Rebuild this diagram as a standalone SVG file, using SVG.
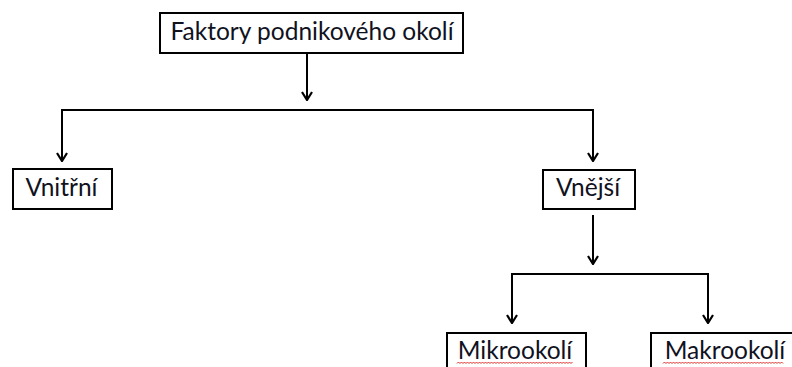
<svg xmlns="http://www.w3.org/2000/svg" width="792" height="367" viewBox="0 0 792 367">
<defs>
<style>
.box{fill:#fff;stroke:#000;stroke-width:2}
.lbl{font-family:Lato,"Liberation Sans",sans-serif;font-size:24.5px;fill:#10121e}
.conn{fill:none;stroke:#000;stroke-width:2}
.squig{fill:none;stroke:#e0302a;stroke-width:1}
</style>
<marker id="arr" viewBox="0 0 12 12" refX="11" refY="6" markerWidth="12" markerHeight="12" markerUnits="userSpaceOnUse" orient="auto">
<path d="M3,1 L11,6 L3,11" fill="none" stroke="#000" stroke-width="2.2"/>
</marker>
</defs>
<rect width="792" height="367" fill="#fff"/>
<g id="connectors">
<path class="conn" d="M307,53 V100" marker-end="url(#arr)"/>
<path class="conn" d="M62,161 V110 H593 V161" />
<path class="conn" d="M62,110 V161" marker-end="url(#arr)"/>
<path class="conn" d="M593,110 V161" marker-end="url(#arr)"/>
<path class="conn" d="M593,215 V264" marker-end="url(#arr)"/>
<path class="conn" d="M512,323 V274 H708 V323"/>
<path class="conn" d="M512,274 V323" marker-end="url(#arr)"/>
<path class="conn" d="M708,274 V323" marker-end="url(#arr)"/>
</g>
<g id="n-faktory">
<rect class="box" x="160" y="13" width="303" height="40"/>
<text class="lbl" x="312" y="40" text-anchor="middle">Faktory podnikového okolí</text>
</g>
<g id="n-vnitrni">
<rect class="box" x="13" y="169" width="99" height="40"/>
<text class="lbl" x="61.5" y="196" text-anchor="middle">Vnitřní</text>
</g>
<g id="n-vnejsi">
<rect class="box" x="543" y="170" width="92" height="39"/>
<text class="lbl" x="588" y="196" text-anchor="middle">Vnější</text>
</g>
<g id="n-mikro">
<rect class="box" x="447" y="333" width="139" height="40"/>
<text class="lbl" x="515" y="359" text-anchor="middle">Mikrookolí</text>
<path class="squig" d="M457,363.5 l1.5,-1.5 l1.5,1.5 l1.5,-1.5 l1.5,1.5 l1.5,-1.5 l1.5,1.5 l1.5,-1.5 l1.5,1.5 l1.5,-1.5 l1.5,1.5 l1.5,-1.5 l1.5,1.5 l1.5,-1.5 l1.5,1.5 l1.5,-1.5 l1.5,1.5 l1.5,-1.5 l1.5,1.5 l1.5,-1.5 l1.5,1.5 l1.5,-1.5 l1.5,1.5 l1.5,-1.5 l1.5,1.5 l1.5,-1.5 l1.5,1.5 l1.5,-1.5 l1.5,1.5 l1.5,-1.5 l1.5,1.5 l1.5,-1.5 l1.5,1.5 l1.5,-1.5 l1.5,1.5 l1.5,-1.5 l1.5,1.5 l1.5,-1.5 l1.5,1.5 l1.5,-1.5 l1.5,1.5 l1.5,-1.5 l1.5,1.5 l1.5,-1.5 l1.5,1.5 l1.5,-1.5 l1.5,1.5 l1.5,-1.5 l1.5,1.5 l1.5,-1.5 l1.5,1.5 l1.5,-1.5 l1.5,1.5 l1.5,-1.5 l1.5,1.5 l1.5,-1.5 l1.5,1.5 l1.5,-1.5 l1.5,1.5 l1.5,-1.5 l1.5,1.5 l1.5,-1.5 l1.5,1.5 l1.5,-1.5 l1.5,1.5 l1.5,-1.5 l1.5,1.5 l1.5,-1.5 l1.5,1.5 l1.5,-1.5 l1.5,1.5 l1.5,-1.5 l1.5,1.5 l1.5,-1.5 l1.5,1.5 l1.5,-1.5 l1.5,1.5 l1.5,-1.5"/>
</g>
<g id="n-makro">
<rect class="box" x="651" y="333" width="150" height="40"/>
<text class="lbl" x="725" y="359" text-anchor="middle">Makrookolí</text>
<path class="squig" d="M663,363.5 l1.5,-1.5 l1.5,1.5 l1.5,-1.5 l1.5,1.5 l1.5,-1.5 l1.5,1.5 l1.5,-1.5 l1.5,1.5 l1.5,-1.5 l1.5,1.5 l1.5,-1.5 l1.5,1.5 l1.5,-1.5 l1.5,1.5 l1.5,-1.5 l1.5,1.5 l1.5,-1.5 l1.5,1.5 l1.5,-1.5 l1.5,1.5 l1.5,-1.5 l1.5,1.5 l1.5,-1.5 l1.5,1.5 l1.5,-1.5 l1.5,1.5 l1.5,-1.5 l1.5,1.5 l1.5,-1.5 l1.5,1.5 l1.5,-1.5 l1.5,1.5 l1.5,-1.5 l1.5,1.5 l1.5,-1.5 l1.5,1.5 l1.5,-1.5 l1.5,1.5 l1.5,-1.5 l1.5,1.5 l1.5,-1.5 l1.5,1.5 l1.5,-1.5 l1.5,1.5 l1.5,-1.5 l1.5,1.5 l1.5,-1.5 l1.5,1.5 l1.5,-1.5 l1.5,1.5 l1.5,-1.5 l1.5,1.5 l1.5,-1.5 l1.5,1.5 l1.5,-1.5 l1.5,1.5 l1.5,-1.5 l1.5,1.5 l1.5,-1.5 l1.5,1.5 l1.5,-1.5 l1.5,1.5 l1.5,-1.5 l1.5,1.5 l1.5,-1.5 l1.5,1.5 l1.5,-1.5 l1.5,1.5 l1.5,-1.5 l1.5,1.5 l1.5,-1.5 l1.5,1.5 l1.5,-1.5 l1.5,1.5 l1.5,-1.5 l1.5,1.5 l1.5,-1.5 l1.5,1.5 l1.5,-1.5 l1.5,1.5"/>
</g>
</svg>
